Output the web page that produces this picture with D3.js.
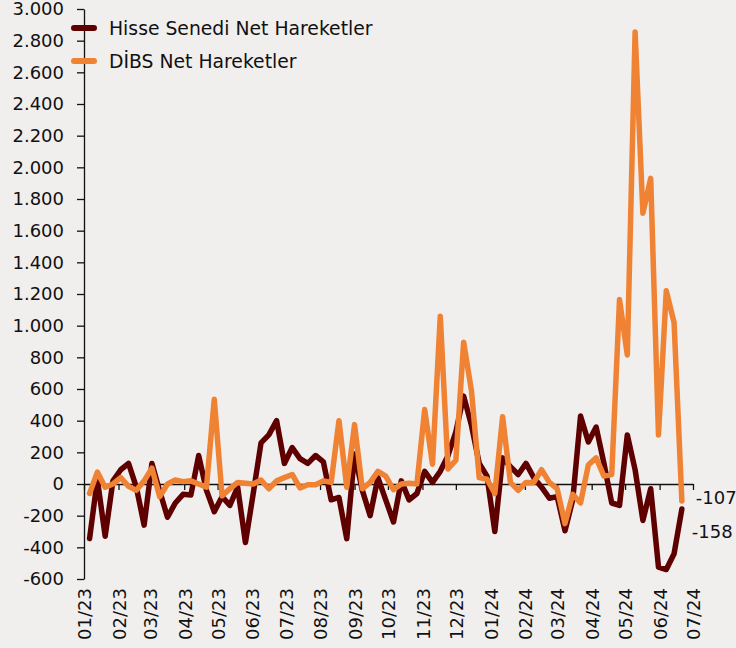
<!DOCTYPE html>
<html>
<head>
<meta charset="utf-8">
<script src="https://cdn.jsdelivr.net/npm/d3@7"></script>
<style>
  body { margin: 0; background: #f1efee; }
  svg { display: block; font-family: "DejaVu Sans", sans-serif; }
</style>
</head>
<body>
<script>
// weekly net flows (mn USD), first week ending 06.01.2023
var firstWeek = new Date(2023, 0, 6);

var hisse = [-345, 30, -330, 20, 90, 130, -20, -260, 130, -45,
  -210, -120, -65, -70, 180, -40, -175, -80, -135, -20,
  -370, -60, 260, 310, 400, 130, 230, 160, 130, 180,
  140, -100, -85, -345, 190, -40, -200, 40, -100, -240,
  20, -100, -60, 80, 10, 80, 180, 330, 555, 370,
  130, 50, -300, 165, 110, 60, 130, 40, -20, -90,
  -80, -295, -100, 430, 265, 360, 130, -120, -135, 310,
  90, -230, -30, -525, -540, -440, -158];

var dibs = [-60, 75, -20, 0, 40, -15, -40, 20, 100, -80,
  0, 25, 15, 20, 0, -20, 535, -75, -30, 10,
  5, 0, 25, -30, 20, 40, 60, -25, -5, -5,
  20, 10, 400, -20, 375, -30, 10, 80, 50, -35,
  0, 5, 0, 470, 125, 1060, 95, 150, 895, 590,
  40, 30, -60, 425, 10, -40, 10, 10, 90, 10,
  -30, -250, -65, -120, 120, 165, 50, 60, 1165, 815,
  2855, 1710, 1930, 310, 1220, 1020, -107];

var monthLabels = ["01/23", "02/23", "03/23", "04/23", "05/23", "06/23", "07/23",
  "08/23", "09/23", "10/23", "11/23", "12/23", "01/24", "02/24", "03/24",
  "04/24", "05/24", "06/24", "07/24"];

var yTicks = [-600, -400, -200, 0, 200, 400, 600, 800, 1000, 1200, 1400,
  1600, 1800, 2000, 2200, 2400, 2600, 2800, 3000];

var seriesNames = ["Hisse Senedi Net Hareketler", "DİBS Net Hareketler"];
var colors = ["#5e0000", "#ef8233"];

var width = 736, height = 648;
var margin = {top: 9, right: 43, bottom: 69, left: 84};

var trLocale = d3.formatLocale({decimal: ",", thousands: ".", grouping: [3], currency: ["", ""], minus: "-"});
var fmt = trLocale.format(",d");

var dates = hisse.map(function(d, i) { return d3.timeDay.offset(firstWeek, 7 * i); });
var months = d3.timeMonth.range(new Date(2023, 0, 1), new Date(2024, 6, 2));

var svg = d3.select("body").append("svg").attr("width", width).attr("height", height);

var x = d3.scaleTime()
  .domain([new Date(2023, 0, 1), new Date(2024, 6, 1)])
  .range([margin.left, width - margin.right]);

var y = d3.scaleLinear()
  .domain([-600, 3000])
  .range([height - margin.bottom, margin.top]);

// y axis, ticks to the left
var yAxis = svg.append("g")
  .attr("transform", "translate(" + margin.left + ",0)")
  .call(d3.axisLeft(y).tickValues(yTicks).tickFormat(fmt).tickSize(7).tickPadding(13).tickSizeOuter(0));
yAxis.selectAll("text").attr("font-size", 18).attr("fill", "#111").attr("font-family", "DejaVu Sans");
yAxis.selectAll("line, path").attr("stroke", "#111").attr("stroke-width", 1.3);

// x axis sits on zero
var xAxis = svg.append("g")
  .attr("transform", "translate(0," + y(0) + ")")
  .call(d3.axisBottom(x).tickValues(months).tickFormat("").tickSize(6).tickSizeOuter(0));
xAxis.selectAll("line, path").attr("stroke", "#111").attr("stroke-width", 1.3);

// month labels at the bottom
svg.append("g").selectAll("text")
  .data(months)
  .enter().append("text")
  .attr("transform", function(d) { return "translate(" + (x(d) + 1) + "," + (y(-600) + 9) + ") rotate(-90)"; })
  .attr("text-anchor", "end")
  .attr("dy", "0.35em")
  .attr("font-size", 18)
  .attr("fill", "#111")
  .text(function(d, i) { return monthLabels[i]; });

var line = d3.line()
  .x(function(d) { return x(d.date); })
  .y(function(d) { return y(d.value); });

var series = [hisse, dibs].map(function(vals) {
  return vals.map(function(v, i) { return {date: dates[i], value: v}; });
});

// orange drawn over the dark line
svg.selectAll(".line")
  .data([series[0], series[1]])
  .enter().append("path")
  .attr("class", "line")
  .attr("d", line)
  .attr("fill", "none")
  .attr("stroke", function(d, i) { return colors[i]; })
  .attr("stroke-width", 5.5)
  .attr("stroke-linejoin", "round")
  .attr("stroke-linecap", "round");

// end labels
var last = dates[dates.length - 1];
svg.append("text")
  .attr("x", x(last) + 14).attr("y", y(dibs[dibs.length - 1]) - 3)
  .attr("dy", "0.35em").attr("font-size", 18).attr("fill", "#111")
  .text(fmt(dibs[dibs.length - 1]));
svg.append("text")
  .attr("x", x(last) + 10).attr("y", y(hisse[hisse.length - 1]) + 23)
  .attr("dy", "0.35em").attr("font-size", 18).attr("fill", "#111")
  .text(fmt(hisse[hisse.length - 1]));

// legend
var legend = svg.append("g").selectAll("g")
  .data(seriesNames)
  .enter().append("g")
  .attr("transform", function(d, i) { return "translate(74," + (28 + i * 33) + ")"; });
legend.append("line")
  .attr("x1", 0).attr("x2", 20)
  .attr("stroke", function(d, i) { return colors[i]; })
  .attr("stroke-width", 6)
  .attr("stroke-linecap", "round");
legend.append("text")
  .attr("x", 35).attr("dy", "0.35em")
  .attr("font-size", 18.8).attr("fill", "#111")
  .text(function(d) { return d; });
</script>
</body>
</html>
